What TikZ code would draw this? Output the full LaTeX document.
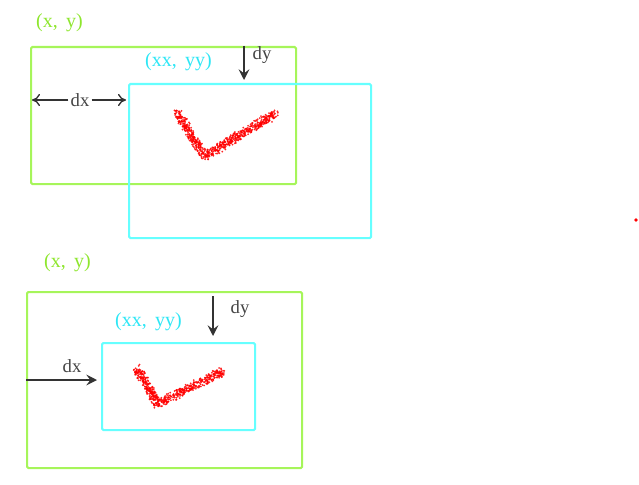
\documentclass[tikz,border=0pt]{standalone}
\usepackage{fontspec}
\setmainfont{Liberation Serif}
\usetikzlibrary{arrows.meta,calc}
\definecolor{lgreen}{HTML}{A6F55A}
\definecolor{lgreentxt}{HTML}{8EE62E}
\definecolor{lcyan}{HTML}{66FFFF}
\definecolor{lcyantxt}{HTML}{2EE6F5}
\definecolor{lbltxt}{HTML}{444444}
\newcommand{\myspray}[3]{%
  \foreach \i in {1,...,#3}{%
    \pgfmathsetmacro\tt{rnd}%
    \pgfmathsetmacro\ox{rand*4.0}%
    \pgfmathsetmacro\oy{rand*4.0}%
    \fill[red,opacity=0.85] ($(#1)!\tt!(#2)$) ++(\ox,\oy) circle[radius=0.75pt];
  }%
}
\begin{document}
\begin{tikzpicture}[x=0.75pt,y=-0.75pt,
  greenbox/.style={draw=lgreen,line width=1.6pt,rounded corners=1pt},
  cyanbox/.style={draw=lcyan,line width=1.6pt,rounded corners=1pt},
  glabel/.style={text=lgreentxt,font=\fontsize{15}{17}\selectfont,inner sep=0pt},
  clabel/.style={text=lcyantxt,font=\fontsize{15}{17}\selectfont,inner sep=0pt},
  dlabel/.style={text=lbltxt,font=\fontsize{14}{16}\selectfont,inner sep=0pt},
  arr/.style={draw=black!80,line width=1pt,-{To[length=6pt,width=9pt]}},
  darr/.style={draw=black!80,line width=1pt,-{Stealth[length=8pt,width=8pt,inset=3pt]}}]
\useasboundingbox (0,0) rectangle (639,485);
\pgfmathsetseed{11}
% ---------- top diagram ----------
\node[greenbox,minimum width=265*0.75pt,minimum height=137*0.75pt,anchor=north west] (g1) at (30,46) {};
\node[cyanbox,minimum width=242*0.75pt,minimum height=154*0.75pt,anchor=north west] (c1) at (128,83) {};
\node[glabel] (l1) at (59.5,22.5) {(x,\, y)};
\node[clabel] (m1) at (178.5,62) {(xx,\, yy)};
\coordinate (dyt1) at (244,46);
\coordinate (dyb1) at (244,80);
\draw[darr] (dyt1) -- (dyb1);
\node[dlabel] (dy1) at (262,55) {dy};
\node[dlabel] (dx1) at (80,100) {dx};
\coordinate (dxl1) at (32,100);
\coordinate (dxr1) at (126,100);
\draw[arr] (dx1.west) ++(-2,0) coordinate (dxa1) (dxa1) -- (dxl1);
\draw[arr] (dx1.east) ++(2,0) coordinate (dxb1) (dxb1) -- (dxr1);
\coordinate (ka1) at (177,113);
\coordinate (kb1) at (205,156);
\coordinate (kc1) at (275,114);
\myspray{ka1}{kb1}{280}
\myspray{kb1}{kc1}{430}
% ---------- bottom diagram ----------
\node[greenbox,minimum width=275*0.75pt,minimum height=176*0.75pt,anchor=north west] (g2) at (26,291) {};
\node[cyanbox,minimum width=153*0.75pt,minimum height=87*0.75pt,anchor=north west] (c2) at (101,342) {};
\node[glabel] (l2) at (67.5,263) {(x,\, y)};
\node[clabel] (m2) at (148.5,322) {(xx,\, yy)};
\coordinate (dyt2) at (213,296);
\coordinate (dyb2) at (213,336);
\draw[darr] (dyt2) -- (dyb2);
\node[dlabel] (dy2) at (240,309) {dy};
\node[dlabel] (dx2) at (72,366) {dx};
\coordinate (dxl2) at (26,380);
\coordinate (dxr2) at (97,380);
\draw[darr] (dxl2) -- (dxr2);
\coordinate (ka2) at (136,368);
\coordinate (kb2) at (158,404);
\coordinate (kc2) at (223,371);
\myspray{ka2}{kb2}{240}
\myspray{kb2}{kc2}{340}
% ---------- stray dot ----------
\fill[red] (636,220) circle[radius=1.4pt];
\end{tikzpicture}
\end{document}
